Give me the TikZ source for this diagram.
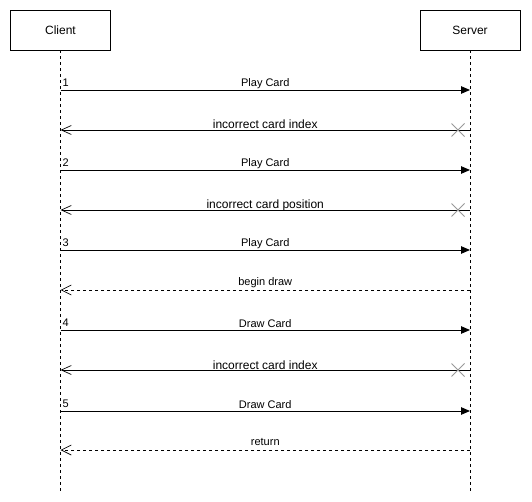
\documentclass[tikz,border=0pt]{standalone}
\usepackage{fontspec}
\setmainfont{Liberation Sans}
\usetikzlibrary{arrows.meta,calc}
\begin{document}
\begin{tikzpicture}[x=1pt,y=-1pt,
  actor/.style={draw,line width=0.9pt,minimum width=100pt,minimum height=40pt,inner sep=0pt,font=\fontsize{12}{14}\selectfont},
  life/.style={line width=0.9pt,dash pattern=on 3pt off 3pt},
  call/.style={line width=0.9pt,-{Triangle[length=9pt,width=7.5pt]}},
  ret/.style={line width=0.9pt,dash pattern=on 3pt off 3pt,-{Straight Barb[length=10pt,width=10pt,line width=0.7pt]}},
  err/.style={line width=0.9pt,-{Straight Barb[length=10pt,width=9pt,line width=0.7pt]}},
  lbl/.style={font=\fontsize{11}{13}\selectfont,inner sep=0pt,anchor=base},
  lblbig/.style={font=\fontsize{12}{14}\selectfont,inner sep=0pt,anchor=base},
  num/.style={font=\fontsize{11}{13}\selectfont,inner sep=0pt,anchor=base west},
  xmark/.style={draw=gray!80,line width=0.9pt}
]
\useasboundingbox (0,0) rectangle (532,502);
\node[actor] (client) at (60.5,30) {Client};
\node[actor] (server) at (470,30) {Server};
\coordinate (cend) at (60.5,491);
\coordinate (send) at (470,491);
\draw[life] (client.south) -- (cend);
\draw[life] (server.south) -- (send);
\foreach \n/\y in {m1/90,m2/130,m3/170,m4/210,m5/250,m6/290,m7/330,m8/370,m9/411,m10/450}{
  \coordinate (c\n) at (60.5,\y);
  \coordinate (s\n) at (470,\y);
}
% 1
\draw[call] (cm1) -- (sm1) node[lbl,pos=0.5,yshift=3pt] {Play Card};
\node[num] at (62.5,86.5) {1};
% incorrect card index
\draw[err] (sm2) -- (cm2) node[lblbig,pos=0.5,yshift=1pt] {incorrect card index};
\draw[xmark] ($(sm2)+(-18.5,-6.5)$) -- ++(13,13) ($(sm2)+(-18.5,6.5)$) -- ++(13,-13);
% 2
\draw[call] (cm3) -- (sm3) node[lbl,pos=0.5,yshift=3pt] {Play Card};
\node[num] at (62.5,166.5) {2};
% incorrect card position
\draw[err] (sm4) -- (cm4) node[lblbig,pos=0.5,yshift=1pt] {incorrect card position};
\draw[xmark] ($(sm4)+(-18.5,-6.5)$) -- ++(13,13) ($(sm4)+(-18.5,6.5)$) -- ++(13,-13);
% 3
\draw[call] (cm5) -- (sm5) node[lbl,pos=0.5,yshift=3pt] {Play Card};
\node[num] at (62.5,246.5) {3};
% begin draw
\draw[ret] (sm6) -- (cm6) node[lbl,pos=0.5,yshift=5pt] {begin draw};
% 4
\draw[call] (cm7) -- (sm7) node[lbl,pos=0.5,yshift=3pt] {Draw Card};
\node[num] at (62.5,326.5) {4};
% incorrect card index
\draw[err] (sm8) -- (cm8) node[lblbig,pos=0.5,yshift=1pt] {incorrect card index};
\draw[xmark] ($(sm8)+(-18.5,-6.5)$) -- ++(13,13) ($(sm8)+(-18.5,6.5)$) -- ++(13,-13);
% 5
\draw[call] (cm9) -- (sm9) node[lbl,pos=0.5,yshift=3pt] {Draw Card};
\node[num] at (62.5,407.5) {5};
% return
\draw[ret] (sm10) -- (cm10) node[lbl,pos=0.5,yshift=5pt] {return};
\end{tikzpicture}
\end{document}
